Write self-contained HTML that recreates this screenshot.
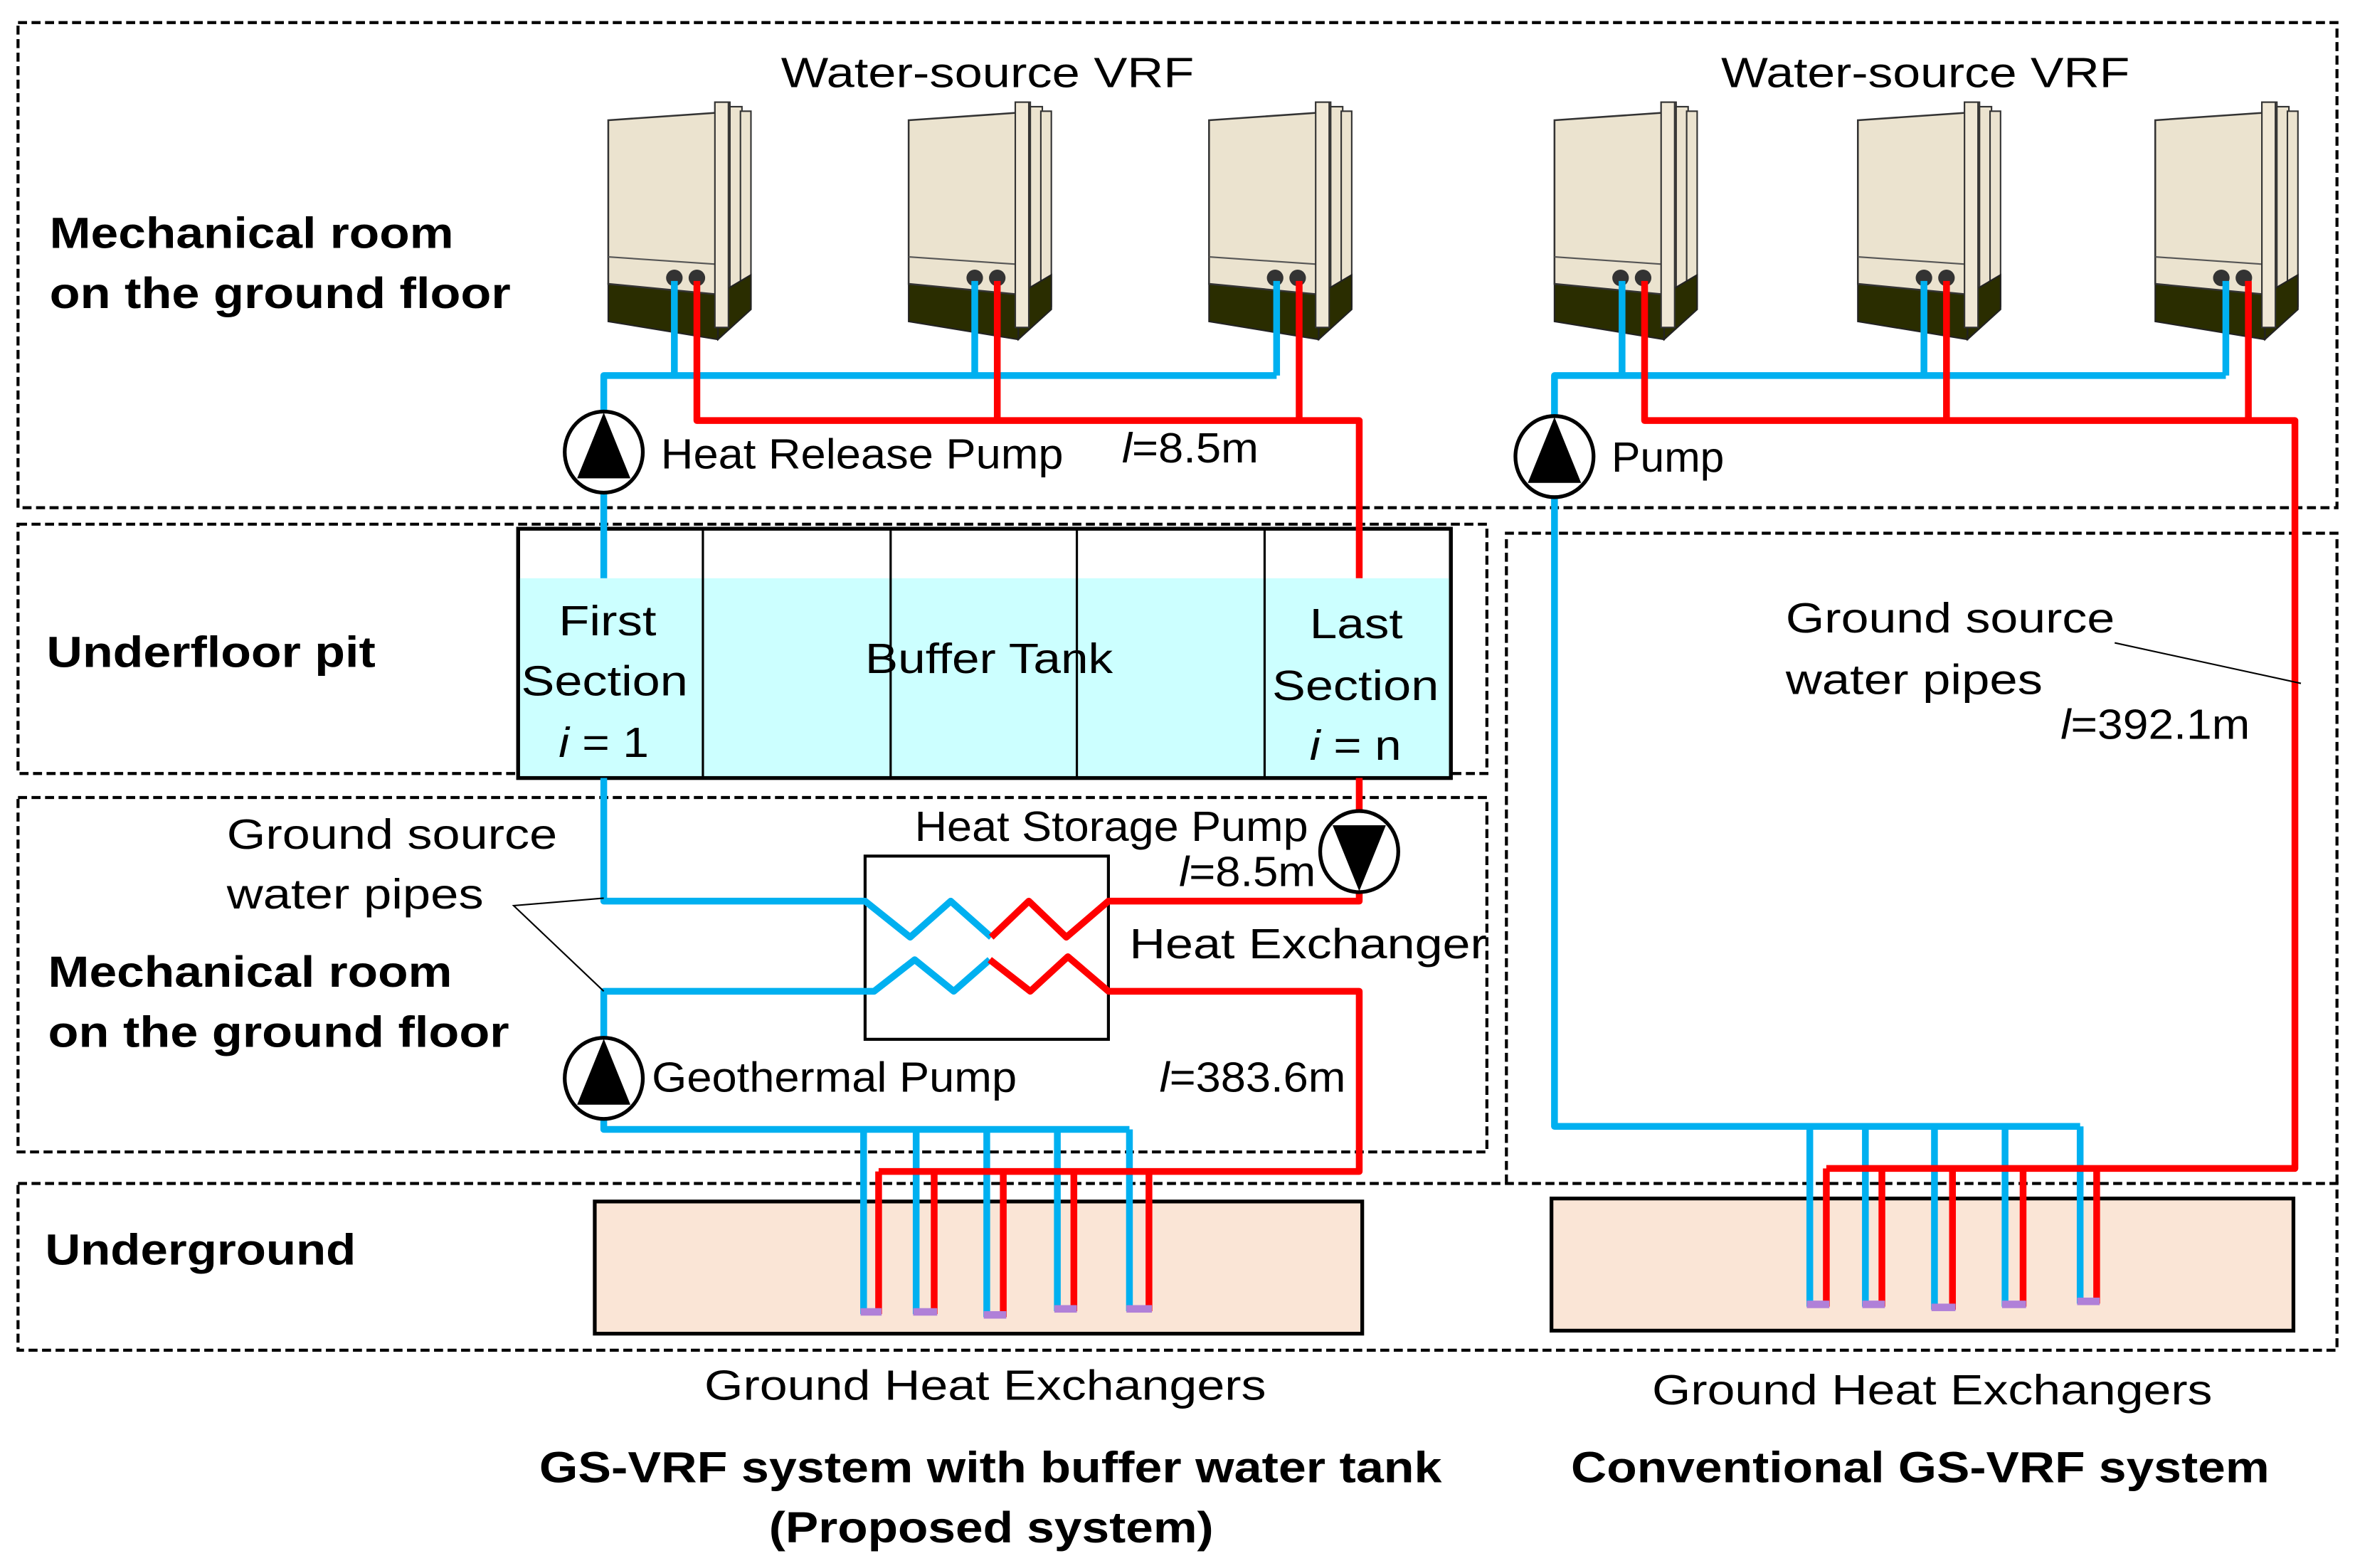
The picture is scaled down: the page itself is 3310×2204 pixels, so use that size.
<!DOCTYPE html>
<html><head><meta charset="utf-8"><style>
html,body{margin:0;padding:0;background:#fff;}
svg{display:block;}
text{font-family:"Liberation Sans",Arial,sans-serif;fill:#000;}
</style></head><body>
<svg width="3310" height="2204" viewBox="0 0 1568 1044" xmlns="http://www.w3.org/2000/svg">
<defs>
<g id="vrf">
  <rect x="476" y="68" width="10" height="150" fill="#ebe3cf" stroke="#333" stroke-width="1"/>
  <rect x="486" y="71" width="8" height="140" fill="#ebe3cf" stroke="#333" stroke-width="1"/>
  <rect x="493" y="74" width="7" height="130" fill="#ebe3cf" stroke="#333" stroke-width="1"/>
  <polygon points="478,196 500,183 500,206 478,226" fill="#2a2d00" stroke="#222" stroke-width="1"/>
  <polygon points="405,189 478,196 478,226 405,214" fill="#2a2d00" stroke="#222" stroke-width="1"/>
  <polygon points="405,80 478,75 478,196 405,189" fill="#ebe3cf" stroke="#333" stroke-width="1.2"/>
  <line x1="405" y1="171" x2="478" y2="176" stroke="#555" stroke-width="1"/>
  <rect x="476" y="68" width="9" height="150" fill="#f0e8d6" stroke="#333" stroke-width="1"/>
  <circle cx="449" cy="185" r="5.5" fill="#333"/>
  <circle cx="464" cy="185" r="5.5" fill="#333"/>
</g>
</defs>

<g fill="none" stroke="#000" stroke-width="2" stroke-dasharray="6,3">
  <rect x="12" y="15" width="1544" height="323"/>
  <rect x="12" y="349" width="978" height="166"/>
  <rect x="12" y="531" width="978" height="236"/>
  <polyline points="1003,788 1003,355 1556,355 1556,788"/>
  <rect x="12" y="788" width="1544" height="111"/>
</g>

<rect x="396" y="800" width="511" height="88" fill="#fae5d6" stroke="#000" stroke-width="2.5"/>
<rect x="1033" y="798" width="494" height="88" fill="#fae5d6" stroke="#000" stroke-width="2.5"/>

<rect x="345" y="352" width="621" height="166" fill="#fff" stroke="#000" stroke-width="2.5"/>
<rect x="346" y="385" width="619" height="132" fill="#ccffff"/>
<g stroke="#000" stroke-width="1.5">
  <line x1="468" y1="352" x2="468" y2="518"/>
  <line x1="593" y1="352" x2="593" y2="518"/>
  <line x1="717" y1="352" x2="717" y2="518"/>
  <line x1="842" y1="352" x2="842" y2="518"/>
</g>
<rect x="345" y="352" width="621" height="166" fill="none" stroke="#000" stroke-width="2.5"/>

<use href="#vrf"/>
<use href="#vrf" transform="translate(200,0)"/>
<use href="#vrf" transform="translate(400,0)"/>
<use href="#vrf" transform="translate(630,0)"/>
<use href="#vrf" transform="translate(832,0)"/>
<use href="#vrf" transform="translate(1030,0)"/>

<rect x="576" y="570" width="162" height="122" fill="#fff" stroke="#000" stroke-width="2"/>

<g fill="none" stroke="#00b0f0" stroke-width="4.5" stroke-linejoin="round">
  <polyline points="449,187 449,250"/>
  <polyline points="649,187 649,250"/>
  <polyline points="850,187 850,250"/>
  <polyline points="850,250 402,250 402,385"/>
  <polyline points="402,518 402,600 576,600 606,624 633,600 660,624"/>
  <polyline points="659,639 635,660 609,639 582,660 402,660 402,752 752,752"/>
  <polyline points="575,752 575,875"/><polyline points="610,752 610,875"/><polyline points="657,752 657,877"/>
  <polyline points="704,752 704,873"/><polyline points="752,752 752,873"/>
  <polyline points="1080,187 1080,250"/><polyline points="1281,187 1281,250"/><polyline points="1482,187 1482,250"/>
  <polyline points="1482,250 1035,250 1035,750 1385,750"/>
  <polyline points="1205,750 1205,870"/><polyline points="1242,750 1242,870"/><polyline points="1288,750 1288,872"/>
  <polyline points="1335,750 1335,870"/><polyline points="1385,750 1385,868"/>
</g>
<g fill="none" stroke="#ff0000" stroke-width="4.5" stroke-linejoin="round">
  <polyline points="464,187 464,280 905,280 905,385"/>
  <polyline points="664,187 664,280"/><polyline points="865,187 865,280"/>
  <polyline points="905,518 905,600 738,600 710,624 685,600 660,624"/>
  <polyline points="659,639 686,660 711,637 738,660 905,660 905,780 585,780"/>
  <polyline points="585,780 585,875"/><polyline points="622,780 622,875"/><polyline points="668,780 668,877"/>
  <polyline points="715,780 715,873"/><polyline points="765,780 765,873"/>
  <polyline points="1095,187 1095,280 1528,280 1528,778 1216,778"/>
  <polyline points="1296,187 1296,280"/><polyline points="1497,187 1497,280"/>
  <polyline points="1216,778 1216,870"/><polyline points="1253,778 1253,870"/><polyline points="1300,778 1300,872"/>
  <polyline points="1347,778 1347,870"/><polyline points="1396,778 1396,868"/>
</g>
<g fill="#b080d8">
  <rect x="573" y="871" width="14" height="5"/><rect x="608" y="871" width="16" height="5"/>
  <rect x="655" y="873" width="15" height="5"/><rect x="702" y="869" width="15" height="5"/>
  <rect x="750" y="869" width="17" height="5"/>
  <rect x="1203" y="866" width="15" height="5"/><rect x="1240" y="866" width="15" height="5"/>
  <rect x="1286" y="868" width="16" height="5"/><rect x="1333" y="866" width="16" height="5"/>
  <rect x="1383" y="864" width="15" height="5"/>
</g>

<g stroke="#000" stroke-width="2.5">
  <ellipse cx="402" cy="301" rx="26" ry="27" fill="#fff"/>
  <polygon points="402,276 385,318 419,318" fill="#000" stroke-width="1"/>
  <ellipse cx="1035" cy="304" rx="26" ry="27" fill="#fff"/>
  <polygon points="1035,279 1018,321 1052,321" fill="#000" stroke-width="1"/>
  <ellipse cx="402" cy="718" rx="26" ry="27" fill="#fff"/>
  <polygon points="402,693 385,735 419,735" fill="#000" stroke-width="1"/>
  <ellipse cx="905" cy="567" rx="26" ry="27" fill="#fff"/>
  <polygon points="905,592 888,550 922,550" fill="#000" stroke-width="1"/>
</g>

<g stroke="#000" stroke-width="1" fill="none">
  <polyline points="402,598 342,603 402,660"/>
  <polyline points="1408,428 1532,455"/>
</g>

<g font-size="28">
  <text x="520" y="58" textLength="275" lengthAdjust="spacingAndGlyphs">Water-source VRF</text>
  <text x="1146" y="58" textLength="272" lengthAdjust="spacingAndGlyphs">Water-source VRF</text>
  <text x="440" y="312" textLength="268" lengthAdjust="spacingAndGlyphs">Heat Release Pump</text>
  <text x="747" y="308" textLength="91" lengthAdjust="spacingAndGlyphs"><tspan font-style="italic">l</tspan>=8.5m</text>
  <text x="1073" y="314" textLength="75" lengthAdjust="spacingAndGlyphs">Pump</text>
  <text x="372" y="423" textLength="65" lengthAdjust="spacingAndGlyphs">First</text>
  <text x="347" y="463" textLength="111" lengthAdjust="spacingAndGlyphs">Section</text>
  <text x="372" y="504" textLength="60" lengthAdjust="spacingAndGlyphs"><tspan font-style="italic">i</tspan> = 1</text>
  <text x="576" y="448" textLength="165" lengthAdjust="spacingAndGlyphs">Buffer Tank</text>
  <text x="872" y="425" textLength="62" lengthAdjust="spacingAndGlyphs">Last</text>
  <text x="847" y="466" textLength="111" lengthAdjust="spacingAndGlyphs">Section</text>
  <text x="872" y="506" textLength="61" lengthAdjust="spacingAndGlyphs"><tspan font-style="italic">i</tspan> = n</text>
  <text x="1189" y="421" textLength="219" lengthAdjust="spacingAndGlyphs">Ground source</text>
  <text x="1189" y="462" textLength="171" lengthAdjust="spacingAndGlyphs">water pipes</text>
  <text x="1372" y="492" textLength="126" lengthAdjust="spacingAndGlyphs"><tspan font-style="italic">l</tspan>=392.1m</text>
  <text x="151" y="565" textLength="220" lengthAdjust="spacingAndGlyphs">Ground source</text>
  <text x="151" y="605" textLength="171" lengthAdjust="spacingAndGlyphs">water pipes</text>
  <text x="609" y="560" textLength="262" lengthAdjust="spacingAndGlyphs">Heat Storage Pump</text>
  <text x="785" y="590" textLength="91" lengthAdjust="spacingAndGlyphs"><tspan font-style="italic">l</tspan>=8.5m</text>
  <text x="752" y="638" textLength="238" lengthAdjust="spacingAndGlyphs">Heat Exchanger</text>
  <text x="434" y="727" textLength="243" lengthAdjust="spacingAndGlyphs">Geothermal Pump</text>
  <text x="772" y="727" textLength="124" lengthAdjust="spacingAndGlyphs"><tspan font-style="italic">l</tspan>=383.6m</text>
  <text x="469" y="932" textLength="374" lengthAdjust="spacingAndGlyphs">Ground Heat Exchangers</text>
  <text x="1100" y="935" textLength="373" lengthAdjust="spacingAndGlyphs">Ground Heat Exchangers</text>
</g>
<g font-size="29" font-weight="bold">
  <text x="33" y="165" textLength="269" lengthAdjust="spacingAndGlyphs">Mechanical room</text>
  <text x="33" y="205" textLength="307" lengthAdjust="spacingAndGlyphs">on the ground floor</text>
  <text x="31" y="444" textLength="219" lengthAdjust="spacingAndGlyphs">Underfloor pit</text>
  <text x="32" y="657" textLength="269" lengthAdjust="spacingAndGlyphs">Mechanical room</text>
  <text x="32" y="697" textLength="307" lengthAdjust="spacingAndGlyphs">on the ground floor</text>
  <text x="30" y="842" textLength="207" lengthAdjust="spacingAndGlyphs">Underground</text>
  <text x="359" y="987" textLength="601" lengthAdjust="spacingAndGlyphs">GS-VRF system with buffer water tank</text>
  <text x="512" y="1027" textLength="296" lengthAdjust="spacingAndGlyphs">(Proposed system)</text>
  <text x="1046" y="987" textLength="465" lengthAdjust="spacingAndGlyphs">Conventional GS-VRF system</text>
</g>
</svg>
</body></html>
